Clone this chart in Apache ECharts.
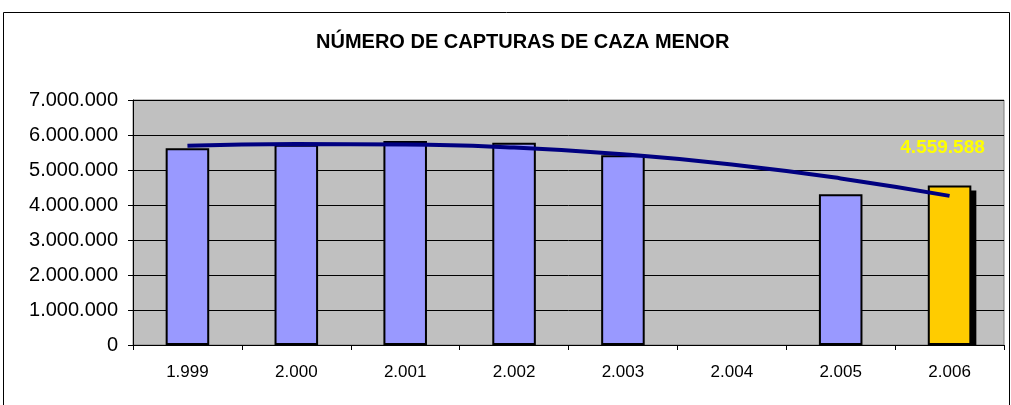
<!DOCTYPE html>
<html>
<head>
<meta charset="utf-8">
<title>Número de capturas de caza menor</title>
<script src="https://cdn.jsdelivr.net/npm/echarts@6/dist/echarts.min.js"></script>
<style>
    html, body { margin: 0; padding: 0; background: #fff; }
    #chart { width: 1011px; height: 405px; }
</style>
</head>
<body>
<div id="chart"></div>
<script>
// datos
const years = ['1.999', '2.000', '2.001', '2.002', '2.003', '2.004', '2.005', '2.006'];
const capturas = [5620000, 5720000, 5830000, 5780000, 5420000, null, 4310000, 4559588];
// línea de tendencia (leída punto a punto)
const tendencia = [5690000, 5740000, 5730000, 5640000, 5450000, 5160000, 4760000, 4260000];
const yTicks = [0, 1000000, 7000000]; // min, intervalo, max

const font = 'Liberation Sans, Arial, sans-serif';

// número con puntos de miles
const fmt = (v) => String(v).replace(/\B(?=(\d{3})+(?!\d))/g, '.');

const chart = echarts.init(document.getElementById('chart'));

const lastIdx = capturas.length - 1;
const barRatio = 0.4;

const options = {
    animation: false,
    textStyle: { fontFamily: font },
    title: {
        text: 'NÚMERO DE CAPTURAS DE CAZA MENOR',
        left: 311,
        top: 27,
        textStyle: { fontFamily: font, fontSize: 20, fontWeight: 'bold', color: '#000' }
    },
    // marco exterior del gráfico
    graphic: [{
        type: 'rect',
        silent: true,
        shape: { x: 3.5, y: 12.5, width: 1006, height: 400 },
        style: { fill: 'none', stroke: '#000', lineWidth: 1 }
    }],
    grid: {
        left: 133,
        right: 7,
        top: 100,
        bottom: 60,
        show: true,
        backgroundColor: '#C0C0C0',
        borderColor: '#808080',
        borderWidth: 1
    },
    xAxis: {
        type: 'category',
        data: years,
        axisLine: { lineStyle: { color: '#000', width: 1 } },
        axisTick: { show: true, alignWithLabel: false, length: 5, lineStyle: { color: '#000' } },
        axisLabel: { color: '#000', fontSize: 17, margin: 19, fontFamily: font }
    },
    yAxis: {
        type: 'value',
        min: yTicks[0],
        max: yTicks[2],
        interval: yTicks[1],
        axisLine: { show: true, lineStyle: { color: '#000', width: 1 } },
        axisTick: { show: true, length: 5, lineStyle: { color: '#000' } },
        axisLabel: { color: '#000', fontSize: 20, margin: 15, fontFamily: font, formatter: fmt },
        splitLine: { show: true, lineStyle: { color: '#000', width: 1 } }
    },
    series: [
        {
            // sombra de la barra destacada (recortada en el eje)
            type: 'custom',
            z: 2,
            silent: true,
            data: [[lastIdx, capturas[lastIdx]]],
            encode: { x: 0, y: 1 },
            renderItem: (params, api) => {
                const idx = api.value(0);
                const top = api.coord([idx, api.value(1)]);
                const base = api.coord([idx, 0]);
                const w = api.size([1, 0])[0] * barRatio;
                return {
                    type: 'rect',
                    shape: { x: top[0] - w / 2 + 5, y: top[1] + 5, width: w, height: base[1] - top[1] - 5 },
                    style: { fill: '#000' }
                };
            }
        },
        {
            type: 'bar',
            z: 3,
            barWidth: (barRatio * 100) + '%',
            data: capturas.map((v, i) => {
                if (i !== lastIdx) return v;
                // último año destacado en amarillo
                return {
                    value: v,
                    itemStyle: { color: '#FFCC00' },
                    label: {
                        show: true,
                        position: 'top',
                        distance: 28,
                        offset: [-7, 0],
                        color: '#FFFF00',
                        fontSize: 19,
                        fontWeight: 'bold',
                        fontFamily: font,
                        formatter: (p) => fmt(p.value)
                    }
                };
            }),
            itemStyle: {
                color: '#9999FF',
                borderColor: '#000',
                borderWidth: 2
            }
        },
        {
            type: 'line',
            data: tendencia,
            smooth: true,
            symbol: 'none',
            z: 5,
            lineStyle: { color: '#000080', width: 4 }
        }
    ]
};

chart.setOption(options);
</script>
</body>
</html>
